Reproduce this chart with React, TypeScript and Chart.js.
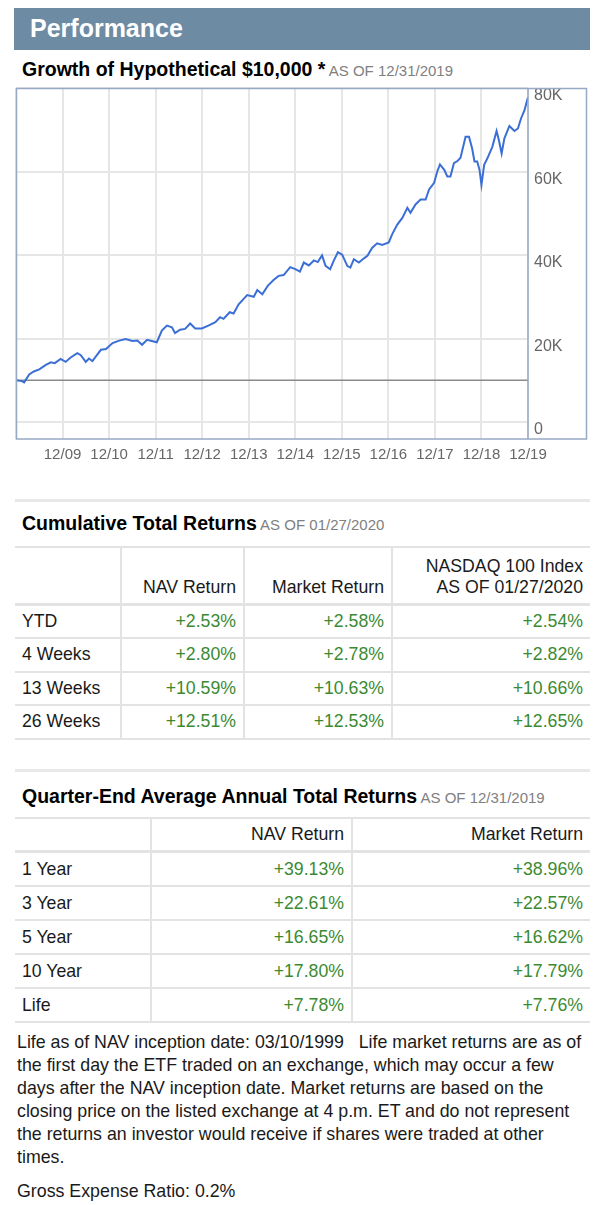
import React, { useEffect, useRef } from "react";
import { Chart, registerables } from "chart.js";

Chart.register(...registerables);

const FONT = '"Liberation Sans", Arial, Helvetica, sans-serif';

// ---- Growth of hypothetical $10,000 (x = months since 12/2008) ----
const months = [
  0, 1.5, 2.1, 3.4, 4.6, 6, 7.7, 9, 10, 11.5, 12.8, 14, 15.8, 16.7, 18, 18.8, 19.7, 20.6, 21.9, 23.2,
  24.9, 26.6, 28.3, 30, 31.3, 32.5, 33.8, 35, 36.3, 37.6, 38.9, 40.2, 41, 42.3, 43.6, 44.9, 46.2, 47.9,
  49.6, 51.4, 52.6, 53.5, 55.1, 56.1, 57.4, 59.6, 61.3, 62.2, 63.5, 64.9, 66.4, 67.7, 69, 70.7, 72,
  73.2, 74.2, 75.5, 76.8, 77.8, 78.9, 79.8, 81, 81.9, 83, 84.1, 85.4, 86.2, 87.1, 88.4, 89.7, 90.6,
  91.8, 93.1, 94.4, 96.1, 97, 98.3, 99.6, 100.9, 101.7, 103, 104.3, 105.6, 106.5, 107.8, 108.6, 109.3,
  110.4, 111.2, 112, 112.9, 113.8, 114.6, 115.9, 116.8, 117.6, 118.2, 118.9, 119.5, 120, 120.7, 121.5,
  122.8, 123.9, 124.5, 125.2, 125.9, 127.2, 128.5, 129.4, 130.2, 131.1, 132,
];
const navValues = [
  10000, 9800, 9500, 11400, 12100, 12600, 13700, 14300, 14100, 15100, 14400, 15400, 16500, 16000,
  14400, 15200, 14600, 15700, 17300, 17500, 18900, 19500, 19900, 19400, 19500, 18500, 19700, 19400,
  19100, 21900, 23100, 22700, 21300, 22100, 22300, 23600, 22400, 22400, 23100, 23900, 25100, 24700,
  26300, 26000, 28200, 30400, 30000, 31600, 30600, 32600, 34000, 35000, 35200, 37100, 36600, 36000,
  38200, 37500, 38700, 38300, 39900, 37400, 36600, 38600, 40700, 40100, 37400, 37000, 39000, 38200,
  39200, 39800, 41700, 42800, 42400, 43000, 45000, 47300, 48900, 51300, 50100, 52100, 53300, 53300,
  55700, 57300, 60000, 61700, 60400, 58800, 58800, 62000, 62500, 63300, 68300, 68300, 65500, 62400,
  62400, 60400, 56800, 61600, 63100, 65900, 69700, 67500, 64300, 67900, 70900, 69700, 70300, 72700,
  74700, 77800,
];
const baselineValue = 10000;
const xTickMonths = [0, 12, 24, 36, 48, 60, 72, 84, 96, 108, 120, 132];
const xTickLabels = ["", "12/09", "12/10", "12/11", "12/12", "12/13", "12/14", "12/15", "12/16", "12/17", "12/18", "12/19"];
const yTickValues = [0, 20000, 40000, 60000, 80000];
const yTickLabels = ["0", "20K", "40K", "60K", "80K"];
const yMin = -4070;
const yMax = 80000;

// ---- Cumulative Total Returns ----
const cumPeriods = ["YTD", "4 Weeks", "13 Weeks", "26 Weeks"];
const cumNav = ["+2.53%", "+2.80%", "+10.59%", "+12.51%"];
const cumMarket = ["+2.58%", "+2.78%", "+10.63%", "+12.53%"];
const cumIndex = ["+2.54%", "+2.82%", "+10.66%", "+12.65%"];

// ---- Quarter-End Average Annual Total Returns ----
const annPeriods = ["1 Year", "3 Year", "5 Year", "10 Year", "Life"];
const annNav = ["+39.13%", "+22.61%", "+16.65%", "+17.80%", "+7.78%"];
const annMarket = ["+38.96%", "+22.57%", "+16.62%", "+17.79%", "+7.76%"];

const GREEN = "#3b8a31";
const LINE = "#e3e3e3";
const TABLE_FONT = 17.7;

const boxPlugin = {
  id: "boxBorder",
  afterDraw(chart: any) {
    const { ctx, chartArea } = chart;
    const y = chart.scales.y;
    ctx.save();
    ctx.strokeStyle = "#97a9c4";
    ctx.lineWidth = 1.5;
    ctx.strokeRect(chartArea.left + 0.5, chartArea.top + 0.5, y.right - chartArea.left - 1, chartArea.bottom - chartArea.top - 0.5);
    ctx.beginPath();
    ctx.moveTo(chartArea.right, chartArea.top);
    ctx.lineTo(chartArea.right, chartArea.bottom);
    ctx.stroke();
    ctx.restore();
  },
};

function GrowthChart() {
  const ref = useRef<HTMLCanvasElement | null>(null);
  useEffect(() => {
    if (!ref.current) return;
    const linePts = months.map((m, i) => ({ x: m, y: navValues[i] }));
    const basePts = [
      { x: months[0], y: baselineValue },
      { x: months[months.length - 1], y: baselineValue },
    ];
    const chart = new Chart(ref.current, {
      type: "line",
      data: {
        datasets: [
          { data: linePts, borderColor: "#3b6fd6", borderWidth: 2, pointRadius: 0, tension: 0, fill: false },
          { data: basePts, borderColor: "#8a8a8a", borderWidth: 1.5, pointRadius: 0, tension: 0, fill: false },
        ],
      },
      options: {
        animation: false,
        responsive: false,
        layout: { autoPadding: false, padding: { left: 1, top: 1, right: 2, bottom: 0 } },
        plugins: { legend: { display: false }, tooltip: { enabled: false } },
        scales: {
          x: {
            type: "linear",
            position: "bottom",
            min: 0,
            max: 132,
            afterBuildTicks: (s: any) => {
              s.ticks = xTickMonths.map((v) => ({ value: v }));
            },
            afterFit: (s: any) => {
              s.height = 28;
              s.paddingLeft = 0;
              s.paddingRight = 0;
            },
            grid: { color: "#e6e6e6", lineWidth: 2, drawTicks: false },
            border: { display: false },
            ticks: {
              autoSkip: false,
              maxRotation: 0,
              padding: 7,
              color: "#666",
              font: { family: FONT, size: 15 },
              callback: (v: any) => {
                const i = xTickMonths.indexOf(Number(v));
                return i >= 0 ? xTickLabels[i] : "";
              },
            },
          },
          y: {
            type: "linear",
            position: "right",
            min: yMin,
            max: yMax,
            afterBuildTicks: (s: any) => {
              s.ticks = yTickValues.map((v) => ({ value: v }));
            },
            afterFit: (s: any) => {
              s.width = 59;
              s.paddingTop = 0;
              s.paddingBottom = 0;
            },
            grid: { color: "#e6e6e6", lineWidth: 2, drawTicks: false },
            border: { display: false },
            ticks: {
              padding: 6,
              labelOffset: 8,
              color: "#666",
              font: { family: FONT, size: 16 },
              callback: (v: any) => {
                const i = yTickValues.indexOf(Number(v));
                return i >= 0 ? yTickLabels[i] : "";
              },
            },
          },
        },
      },
      plugins: [boxPlugin],
    } as any);
    return () => chart.destroy();
  }, []);
  return <canvas ref={ref} width={574} height={380} style={{ width: 574, height: 380, display: "block" }} />;
}

type Col = { w: number; align: "left" | "right" };

function Table(props: {
  top: number;
  cols: Col[];
  header: React.ReactNode[];
  headerH: number;
  headerAlign: "center" | "flex-end";
  rows: string[][];
  rowH: number;
}) {
  const { top, cols, header, headerH, headerAlign, rows, rowH } = props;
  const cell = (ci: number, content: React.ReactNode, vAlign: string, isHeader: boolean) => (
    <div
      key={ci}
      style={{
        width: cols[ci].w,
        boxSizing: "border-box",
        height: "100%",
        padding: isHeader && vAlign === "flex-end" ? "0 7px 5px 7px" : "0 7px",
        display: "flex",
        alignItems: vAlign,
        justifyContent: cols[ci].align === "right" ? "flex-end" : "flex-start",
        textAlign: cols[ci].align,
        borderRight: ci < cols.length - 1 ? `2px solid ${LINE}` : "none",
        color: isHeader || ci === 0 ? "#1a1a1a" : GREEN,
        lineHeight: "21px",
        whiteSpace: "nowrap",
      }}
    >
      {content}
    </div>
  );
  return (
    <div style={{ position: "absolute", left: 15, top, width: 575, borderTop: `2px solid ${LINE}`, fontSize: TABLE_FONT }}>
      <div style={{ display: "flex", height: headerH, boxSizing: "border-box", borderBottom: `3px solid ${LINE}` }}>
        {header.map((h, i) => cell(i, h, headerAlign, true))}
      </div>
      {rows.map((r, ri) => (
        <div key={ri} style={{ display: "flex", height: rowH, boxSizing: "border-box", borderBottom: `2px solid ${LINE}` }}>
          {r.map((c, ci) => cell(ci, c, "center", false))}
        </div>
      ))}
    </div>
  );
}

function Heading(props: { top: number; title: string; asOf: string }) {
  return (
    <div style={{ position: "absolute", left: 22, top: props.top, lineHeight: "22px", whiteSpace: "nowrap" }}>
      <span style={{ fontSize: 19.5, fontWeight: "bold", color: "#000" }}>{props.title}</span>
      <span style={{ fontSize: 15, color: "#808080" }}> {props.asOf}</span>
    </div>
  );
}

export default function App() {
  const cumRows = cumPeriods.map((p, i) => [p, cumNav[i], cumMarket[i], cumIndex[i]]);
  const annRows = annPeriods.map((p, i) => [p, annNav[i], annMarket[i]]);
  return (
    <div
      style={{
        position: "relative",
        width: 602,
        height: 1205,
        marginTop: -8,
        marginLeft: -8,
        background: "#fff",
        fontFamily: FONT,
        overflow: "hidden",
      }}
    >
      <div style={{ position: "absolute", left: 1, top: 0, width: 2, height: 1205, background: "#eeeeee" }} />
      <div style={{ position: "absolute", left: 14, top: 7, width: 576, height: 43, background: "#6e8ba4" }}>
        <div style={{ position: "absolute", left: 16, top: 0, lineHeight: "43px", fontSize: 25, fontWeight: "bold", color: "#fff" }}>
          Performance
        </div>
      </div>
      <Heading top={58} title="Growth of Hypothetical $10,000 *" asOf="AS OF 12/31/2019" />
      <div style={{ position: "absolute", left: 15, top: 87, width: 574, height: 380 }}>
        <GrowthChart />
      </div>
      <div style={{ position: "absolute", left: 15, top: 499, width: 575, height: 3, background: "#e8e8e8" }} />
      <Heading top={512} title="Cumulative Total Returns" asOf="AS OF 01/27/2020" />
      <Table
        top={546}
        cols={[
          { w: 107, align: "left" },
          { w: 123, align: "right" },
          { w: 148, align: "right" },
          { w: 197, align: "right" },
        ]}
        header={[
          "",
          "NAV Return",
          "Market Return",
          <span key="h">
            NASDAQ 100 Index
            <br />
            AS OF 01/27/2020
          </span>,
        ]}
        headerH={57.5}
        headerAlign="flex-end"
        rows={cumRows}
        rowH={33.5}
      />
      <div style={{ position: "absolute", left: 15, top: 769, width: 575, height: 3, background: "#e8e8e8" }} />
      <Heading top={785} title="Quarter-End Average Annual Total Returns" asOf="AS OF 12/31/2019" />
      <Table
        top={817}
        cols={[
          { w: 137, align: "left" },
          { w: 201, align: "right" },
          { w: 237, align: "right" },
        ]}
        header={["", "NAV Return", "Market Return"]}
        headerH={34}
        headerAlign="center"
        rows={annRows}
        rowH={34}
      />
      <div style={{ position: "absolute", left: 17, top: 1031, fontSize: 17.8, lineHeight: "23px", color: "#1a1a1a", whiteSpace: "nowrap" }}>
        Life as of NAV inception date: 03/10/1999{"\u00a0\u00a0 "}Life market returns are as of
        <br />
        the first day the ETF traded on an exchange, which may occur a few
        <br />
        days after the NAV inception date. Market returns are based on the
        <br />
        closing price on the listed exchange at 4 p.m. ET and do not represent
        <br />
        the returns an investor would receive if shares were traded at other
        <br />
        times.
      </div>
      <div style={{ position: "absolute", left: 17, top: 1180, fontSize: 17.8, lineHeight: "23px", color: "#1a1a1a" }}>
        Gross Expense Ratio: 0.2%
      </div>
    </div>
  );
}
